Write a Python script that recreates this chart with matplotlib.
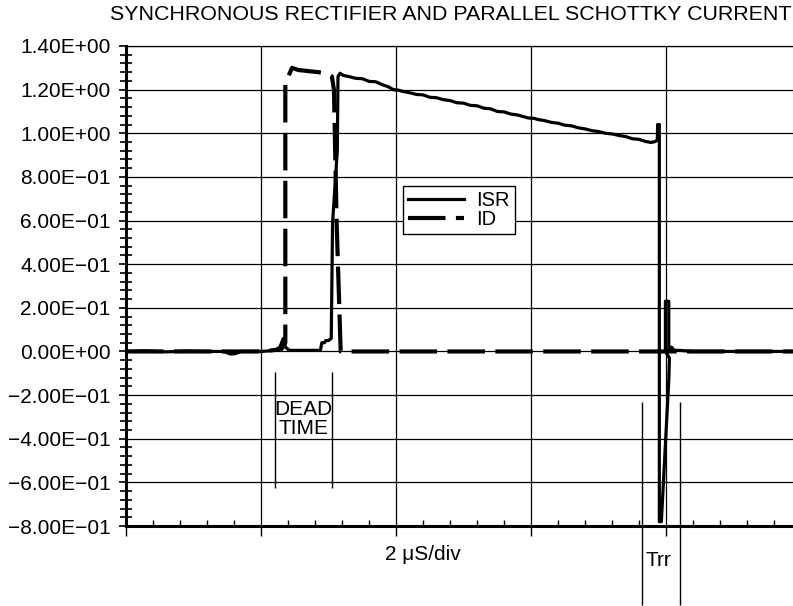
import matplotlib; matplotlib.use('Agg')
import numpy as np
import matplotlib.pyplot as plt
from matplotlib.ticker import MultipleLocator, FuncFormatter

plt.rcParams['font.family'] = ['Liberation Sans', 'DejaVu Sans']

# time in microseconds, current in A
isr_t = [0.0, 0.3, 0.6, 0.9, 1.2, 1.45, 1.55, 1.62, 1.7, 2.0, 2.2, 2.28, 2.33, 2.36, 2.42,
         2.6, 2.88, 2.90, 2.94, 2.96, 3.0, 3.04, 3.06, 3.13, 3.14, 3.17, 3.22, 3.3,
         3.4, 3.5, 3.6, 3.7, 3.8, 3.88, 3.96, 4.03, 4.1, 4.2, 4.3, 4.4, 4.5, 4.6, 4.7, 4.8,
         4.9, 5.0, 5.1, 5.2, 5.3, 5.4, 5.5, 5.6, 5.7, 5.8, 5.96, 6.05, 6.1, 6.2, 6.3, 6.4,
         6.5, 6.6, 6.7, 6.8, 6.9, 7.0, 7.1, 7.2, 7.3, 7.4, 7.5, 7.6, 7.7, 7.78, 7.84, 7.87,
         7.875, 7.90, 7.90, 7.93, 8.04, 8.05, 7.99, 7.99, 8.04, 8.04, 8.08, 8.12, 8.2, 8.4,
         8.8, 9.2, 9.6, 9.88]
isr_a = [0.0, 0.003, -0.002, 0.002, 0.0, 0.0, -0.012, -0.01, 0.0, 0.0, 0.005, 0.02, 0.06, 0.02, 0.005,
         0.005, 0.005, 0.04, 0.04, 0.05, 0.05, 0.06, 0.59, 0.92, 1.26, 1.275, 1.265, 1.26,
         1.252, 1.250, 1.238, 1.236, 1.222, 1.214, 1.200, 1.198, 1.192, 1.186, 1.178, 1.176, 1.165, 1.163,
         1.154, 1.150, 1.140, 1.138, 1.128, 1.126, 1.115, 1.112, 1.100, 1.098, 1.088, 1.084, 1.070,
         1.068, 1.063, 1.058, 1.050, 1.046, 1.037, 1.034, 1.025, 1.020, 1.012, 1.008, 1.000, 0.997,
         0.990, 0.985, 0.975, 0.972, 0.962, 0.958, 0.962, 0.97,
         1.04, 1.04, -0.78, -0.78, -0.13, -0.03, 0.0, 0.23, 0.23, 0.0, 0.02, 0.005, 0.005, 0.0,
         0.0, 0.0, 0.0, 0.0]

id_t = [0.0, 1.0, 2.0, 2.30, 2.36, 2.36, 2.46, 2.55, 2.7, 2.85, 2.95, 3.05, 3.08, 3.12, 3.18, 3.5, 9.88]
id_a = [0.0, 0.0, 0.0, 0.01, 0.04, 1.23, 1.30, 1.29, 1.285, 1.28, 1.275, 1.26, 1.20, 0.59, 0.0, 0.0, 0.0]

fig = plt.figure(figsize=(7.93, 6.06), dpi=100)
ax = fig.add_axes([126/793, 80/606, 667/793, 480/606])

ax.plot(isr_t, isr_a, color='black', lw=2.3, label='ISR')
ax.plot(id_t, id_a, color='black', lw=3.0, linestyle=(0, (9, 2.5)), label='ID')

ax.set_xlim(0, 9.88)
ax.set_ylim(-0.8, 1.4)
ax.xaxis.set_major_locator(MultipleLocator(2))
ax.xaxis.set_minor_locator(MultipleLocator(0.4))
ax.yaxis.set_major_locator(MultipleLocator(0.2))
ax.yaxis.set_minor_locator(MultipleLocator(0.04))
ax.grid(True, which='major', color='black', lw=0.9)
ax.set_axisbelow(True)

def sci(v, pos):
    s = f'{v:.2E}'
    if s.startswith('-0.00'):
        s = s[1:]
    return s.replace('-', '\u2212')
ax.yaxis.set_major_formatter(FuncFormatter(sci))
ax.set_xticklabels([])
ax.tick_params(axis='y', which='major', direction='out', length=5, width=1.2, labelsize=15, pad=6)
ax.tick_params(axis='y', which='minor', direction='inout', length=8, width=1.2)
ax.tick_params(axis='x', which='major', direction='out', length=7, width=1.0)
ax.tick_params(axis='x', which='minor', direction='in', length=4, width=1.0)

ax.spines['right'].set_visible(False)
ax.spines['top'].set_linewidth(0.9)
ax.spines['left'].set_linewidth(2.2)
ax.spines['bottom'].set_linewidth(2.2)

# dead time markers
ax.vlines([2.207, 3.05], -0.626, -0.094, color='black', lw=1.0)
ax.text(2.63, -0.31, 'DEAD\nTIME', ha='center', va='center', fontsize=15, linespacing=0.95)

# Trr markers
ax.vlines([7.644, 8.207], -1.162, -0.231, color='black', lw=1.0, clip_on=False)
fig.text(658/793, 1 - 560/606, 'Trr', ha='center', va='center', fontsize=15)

fig.text(423/793, 1 - 555/606, '2 \u03bcS/div', ha='center', va='center', fontsize=15)
fig.text(792/793, 1 - 15/606, 'SYNCHRONOUS RECTIFIER AND PARALLEL SCHOTTKY CURRENT',
         ha='right', va='center', fontsize=15.4)

leg = ax.legend(loc='upper left', bbox_to_anchor=(403/793, 1 - 186/606), bbox_transform=fig.transFigure,
                fontsize=14.5, handlelength=2.8, handletextpad=0.6, borderpad=0.25, labelspacing=0.0,
                borderaxespad=0, fancybox=False, framealpha=1, edgecolor='black')
leg.get_frame().set_linewidth(1.0)

fig.savefig('out.png', dpi=100, facecolor='white')
